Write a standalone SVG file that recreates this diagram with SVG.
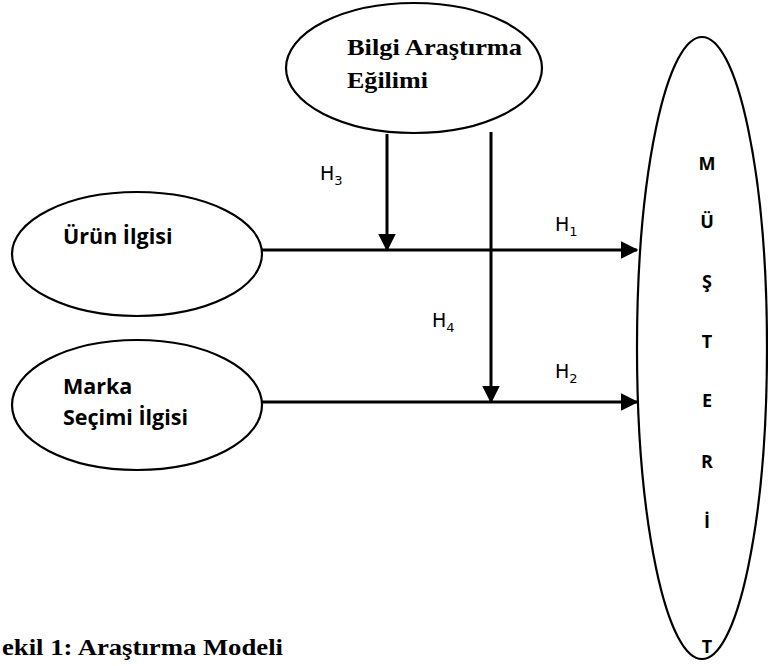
<svg xmlns="http://www.w3.org/2000/svg" width="768" height="666" viewBox="0 0 768 666">
<defs>
<marker id="ah" markerWidth="6" markerHeight="6" refX="5.5" refY="3" orient="auto" markerUnits="strokeWidth"><path d="M0,0 L6,3 L0,6 z" fill="#000"/></marker>
<style>
.node{fill:#fff;stroke:#000;stroke-width:2.2}
.conn{stroke:#000;stroke-width:3;fill:none}
.serif{font-family:"Liberation Serif","Times New Roman",serif;font-weight:bold;fill:#000}
.sans{font-family:"Open Sans","Liberation Sans",sans-serif;font-weight:bold;fill:#000}
.lbl{font-family:"DejaVu Sans","Liberation Sans",sans-serif;font-size:19px;fill:#000}
.sub{font-size:13px}
.let{font-family:"Open Sans","Liberation Sans",sans-serif;font-weight:bold;font-size:18px;text-anchor:middle;fill:#000}
</style>
</defs>
<rect width="768" height="666" fill="#fff"/>
<g id="bilgi">
<ellipse class="node" cx="414" cy="68" rx="128" ry="65"/>
<text class="serif" font-size="24" x="347" y="55" textLength="175" lengthAdjust="spacingAndGlyphs">Bilgi Araştırma</text>
<text class="serif" font-size="24" x="347" y="88" textLength="81" lengthAdjust="spacingAndGlyphs">Eğilimi</text>
</g>
<g id="urun">
<ellipse class="node" cx="137" cy="254" rx="125" ry="62"/>
<text class="sans" font-size="21.5" x="63" y="244">Ürün İlgisi</text>
</g>
<g id="marka">
<ellipse class="node" cx="137" cy="405" rx="125" ry="65"/>
<text class="sans" font-size="21.5" x="63" y="394">Marka</text>
<text class="sans" font-size="21.5" x="63" y="425">Seçimi İlgisi</text>
</g>
<g id="musteri">
<ellipse class="node" cx="702" cy="348" rx="65" ry="311"/>
<text class="let" x="707" y="170">M</text>
<text class="let" x="707" y="228">Ü</text>
<text class="let" x="707" y="288">Ş</text>
<text class="let" x="707" y="348">T</text>
<text class="let" x="707" y="407">E</text>
<text class="let" x="707" y="468">R</text>
<text class="let" x="707" y="528">İ</text>
<text class="let" x="707" y="653">T</text>
</g>
<g id="connectors">
<line class="conn" x1="262" y1="250" x2="637" y2="250" marker-end="url(#ah)"/>
<line class="conn" x1="262" y1="402" x2="637" y2="402" marker-end="url(#ah)"/>
<line class="conn" x1="387" y1="134" x2="387" y2="250" marker-end="url(#ah)"/>
<line class="conn" x1="491" y1="132" x2="491" y2="402" marker-end="url(#ah)"/>
</g>
<g id="labels">
<text class="lbl" x="320" y="180">H<tspan class="sub" dy="5">3</tspan></text>
<text class="lbl" x="555" y="231">H<tspan class="sub" dy="5">1</tspan></text>
<text class="lbl" x="432" y="327">H<tspan class="sub" dy="5">4</tspan></text>
<text class="lbl" x="555" y="378">H<tspan class="sub" dy="5">2</tspan></text>
</g>
<text class="serif" font-size="24" x="2" y="655" textLength="281" lengthAdjust="spacingAndGlyphs">ekil 1: Araştırma Modeli</text>
</svg>
